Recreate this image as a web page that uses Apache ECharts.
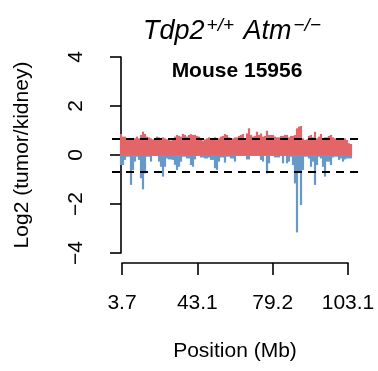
<!DOCTYPE html>
<html>
<head>
<meta charset="utf-8">
<script src="https://cdn.jsdelivr.net/npm/echarts@6/dist/echarts.min.js"></script>
<style>html,body{margin:0;padding:0;background:#fff;}#c{width:378px;height:371px;}</style>
</head>
<body>
<div id="c"></div>
<script>
// Log2 ratio envelope per position bin (bins evenly spaced along the genome index)
const gainValues = [
0.86,0.75,0.75,0.68,0.68,0.64,0.61,0.68,0.75,0.68,0.82,0.95,0.86,0.75,0.72,0.68,0.64,0.68,0.75,0.72,
0.64,0.72,0.68,0.64,0.61,0.59,0.68,0.75,0.82,0.78,0.75,0.86,0.82,0.75,0.82,0.85,0.82,0.82,0.78,0.75,
0.68,0.59,0.64,0.68,0.72,0.68,0.64,0.72,0.68,0.68,0.75,0.78,0.86,0.82,0.72,0.68,0.68,0.72,0.72,0.78,
0.82,0.86,0.68,0.88,1.09,0.82,0.75,0.78,0.95,0.82,0.88,0.75,0.78,0.99,0.82,0.82,0.82,0.75,0.72,0.72,
0.78,0.78,0.82,0.82,0.72,0.78,0.78,0.82,1.09,1.16,1.18,0.68,0.61,0.64,0.78,0.82,0.72,0.95,0.68,0.75,
0.86,0.68,0.72,0.72,0.78,0.82,0.72,0.68,0.64,0.64,0.68,0.68,0.68,0.61,0.48,0.45
];
const lossValues = [
-0.41,-0.41,-0.2,-0.07,-0.07,-1.22,-0.61,-0.27,-0.07,-0.2,-0.95,-1.4,-0.75,-0.07,-0.07,-0.27,-0.04,-0.04,-0.04,-0.27,
-0.48,-0.88,-0.48,-0.14,-0.18,-0.18,-0.2,-0.4,-0.61,-0.48,-0.27,-0.07,-0.07,-0.14,-0.14,-0.41,-0.48,-0.18,-0.04,-0.04,
-0.1,-0.1,-0.14,-0.14,-0.1,-0.2,-0.2,-0.54,-0.61,-0.27,-0.1,-0.1,-0.31,-0.07,-0.07,-0.14,-0.14,-0.27,-0.04,-0.04,
-0.04,-0.04,-0.04,-0.18,-0.18,-0.04,-0.04,-0.04,-0.04,-0.04,-0.2,-0.27,-0.04,-0.75,-0.34,-0.04,-0.04,-0.1,-0.1,-0.1,
-0.04,-0.34,-0.04,-0.34,-0.27,-0.07,-0.41,-1.16,-3.16,-0.68,-2.04,-0.61,-0.07,-0.07,-0.14,-0.48,-0.27,-1.22,-0.41,-0.07,
-0.14,-0.48,-0.88,-0.27,-0.27,-0.41,-0.1,-0.07,-0.07,-0.2,-0.14,-0.27,-0.18,-0.14,-0.14,-0.14
];
const positionTickLabels = ['3.7', '43.1', '79.2', '103.1'];
const yTicks = [-4, -2, 0, 2, 4];
const thresholds = [0.68, -0.68];

const RED = '#E46567';
const BLUE = '#6699C8';
const FONT = 'Liberation Sans, Arial, Helvetica, sans-serif';
const FS = 21;

const gainData = gainValues.map((v, i) => [i, v]);
const lossData = lossValues.map((v, i) => [i, v]);

const chart = echarts.init(document.getElementById('c'));
chart.setOption({
  animation: false,
  backgroundColor: '#fff',
  title: [{
    text: '{a|Tdp2}{b|+/+}{a| Atm}{b|\u2212/\u2212}',
    left: 143, top: 16, padding: 0,
    textStyle: {
      fontWeight: 'normal',
      rich: {
        a: {fontFamily: FONT, fontStyle: 'italic', fontWeight: 'normal', fontSize: 27, color: '#000', lineHeight: 30},
        b: {fontFamily: FONT, fontStyle: 'italic', fontWeight: 'normal', fontSize: 19, color: '#000', lineHeight: 16, verticalAlign: 'top', padding: [0, 2, 0, 2]}
      }
    }
  }, {
    text: 'Mouse 15956',
    left: 237, textAlign: 'center', top: 60, padding: 0,
    textStyle: {fontFamily: FONT, fontWeight: 'bold', fontSize: FS, color: '#000', lineHeight: 22}
  }],
  grid: [
    {left: 112, right: 20, top: 57, bottom: 118},
    {left: 122, right: 30, top: 262, height: 1}
  ],
  xAxis: [
    {gridIndex: 0, type: 'value', min: -4.5, max: 118.5, show: false},
    {gridIndex: 1, type: 'value', min: 0, max: 3, interval: 1, position: 'bottom',
     axisLine: {show: true, lineStyle: {color: '#000', width: 1.6}},
     axisTick: {show: true, length: 12, lineStyle: {color: '#000', width: 1.6}},
     splitLine: {show: false},
     axisLabel: {margin: 30, fontFamily: FONT, fontSize: FS, color: '#000',
       formatter: v => positionTickLabels[v]},
     name: 'Position (Mb)', nameLocation: 'middle', nameGap: 78,
     nameTextStyle: {fontFamily: FONT, fontSize: FS, color: '#000'}}
  ],
  yAxis: [
    {gridIndex: 0, type: 'value', min: -4, max: 4, interval: 2, offset: 1,
     axisLine: {show: true, lineStyle: {color: '#000', width: 1.6}},
     axisTick: {show: true, length: 11, lineStyle: {color: '#000', width: 1.6}},
     splitLine: {show: false},
     axisLabel: {rotate: 90, margin: 24, fontFamily: FONT, fontSize: FS, color: '#000',
       formatter: v => yTicks.includes(v) ? String(v).replace('-', '\u2212') : ''},
     name: 'Log2 (tumor/kidney)', nameLocation: 'middle', nameGap: 78,
     nameTextStyle: {fontFamily: FONT, fontSize: FS, color: '#000'}},
    {gridIndex: 1, type: 'value', show: false}
  ],
  series: [
    {type: 'bar', xAxisIndex: 0, yAxisIndex: 0, data: lossData, barWidth: 2.2, barGap: '-100%',
     itemStyle: {color: BLUE}, silent: true},
    {type: 'bar', xAxisIndex: 0, yAxisIndex: 0, data: gainData, barWidth: 2.2, barGap: '-100%',
     itemStyle: {color: RED}, silent: true,
     markLine: {symbol: 'none', silent: true, label: {show: false},
       lineStyle: {color: '#000', width: 2, type: [8, 6]},
       data: thresholds.map(t => ({yAxis: t}))}}
  ]
});
</script>
</body>
</html>
